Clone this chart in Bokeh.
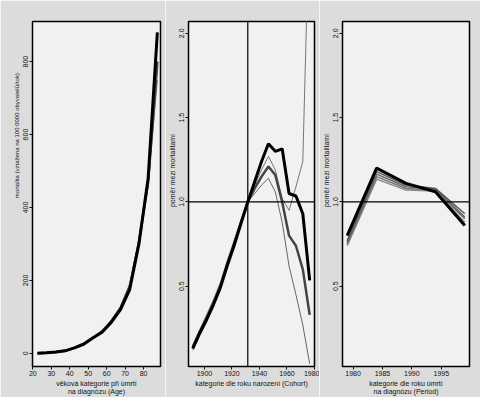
from bokeh.plotting import figure
from bokeh.layouts import row
from bokeh.models import Span, FixedTicker, Range1d, NumeralTickFormatter
from bokeh.embed import file_html
from bokeh.resources import INLINE

# ---- data ----
age = [22.5, 27.5, 32.5, 37.5, 42.5, 47.5, 52.5, 57.5, 62.5, 67.5, 72.5, 77.5, 82.5, 87.5]
age_black = [0.5, 1.5, 3.5, 7, 15, 25, 42, 58, 85, 120, 175, 300, 480, 880]
age_gray = [0.5, 1.5, 3.5, 7, 15, 26, 43, 60, 88, 124, 183, 305, 470, 800]
age_thin1 = [0.5, 1.5, 3.5, 7, 15, 26, 44, 61, 90, 127, 188, 310, 465, 785]
age_thin2 = [0.5, 1.5, 3.5, 7, 15, 26, 44, 62, 91, 129, 190, 312, 460, 750]

cohort = [1891.5, 1896.5, 1901.5, 1906.5, 1911.5, 1916.5, 1921.5, 1926.5, 1931.5,
          1936.5, 1941.5, 1946.5, 1951.5, 1956.5, 1961.5, 1966.5, 1971.5, 1976.5]
coh_black = [0.13, 0.22, 0.30, 0.39, 0.49, 0.62, 0.74, 0.87, 1.0,
             1.12, 1.24, 1.345, 1.30, 1.315, 1.05, 1.035, 0.93, 0.535]
coh_gray = [0.14, 0.23, 0.31, 0.40, 0.50, 0.63, 0.75, 0.88, 1.0,
            1.08, 1.15, 1.21, 1.16, 1.0, 0.80, 0.74, 0.60, 0.33]
coh_thin1 = [0.15, 0.24, 0.33, 0.42, 0.52, 0.65, 0.77, 0.89, 1.0,
             1.10, 1.19, 1.27, 1.19, 1.02, 0.95, 1.09, 1.24, 2.8]
coh_thin2 = [0.12, 0.21, 0.30, 0.40, 0.51, 0.64, 0.76, 0.88, 1.0,
             1.05, 1.10, 1.14, 1.06, 0.88, 0.62, 0.45, 0.27, 0.04]
cohort_ref = [1931.5]

period = [1979, 1984, 1989, 1994, 1999]
per_black = [0.80, 1.20, 1.11, 1.06, 0.86]
per_g1 = [0.77, 1.18, 1.10, 1.08, 0.93]
per_g2 = [0.76, 1.165, 1.09, 1.075, 0.91]
per_g3 = [0.75, 1.15, 1.08, 1.07, 0.90]
per_g4 = [0.74, 1.135, 1.07, 1.065, 0.88]
ratio_ref = [1.0]

age_ticks = [20, 30, 40, 50, 60, 70, 80]
rate_ticks = [0, 200, 400, 600, 800]
cohort_ticks = [1900, 1920, 1940, 1960, 1980]
period_ticks = [1980, 1985, 1990, 1995]
ratio_ticks = [0.5, 1.0, 1.5, 2.0]

FONT = "Liberation Sans"
NB = "\u00a0"


def make_fig(width, bl, br, xr, yr, xticks, yticks, xlabel, ylabel, ylabel_size="7px"):
    p = figure(width=width, height=397, x_range=Range1d(*xr), y_range=Range1d(*yr),
               output_backend="svg", toolbar_location=None,
               min_border_left=bl, min_border_right=br, min_border_top=21, min_border_bottom=31)
    p.background_fill_color = "#f1f1f1"
    p.border_fill_color = "#dcdcdc"
    p.outline_line_color = "black"
    p.outline_line_width = 1.5
    p.grid.visible = False
    p.xaxis.ticker = FixedTicker(ticks=xticks)
    p.yaxis.ticker = FixedTicker(ticks=yticks)
    p.xaxis.axis_label = xlabel
    p.yaxis.axis_label = ylabel
    p.yaxis.major_label_orientation = "vertical"
    for ax in (p.xaxis[0], p.yaxis[0]):
        ax.axis_line_color = None
        ax.major_tick_in = 0
        ax.major_tick_out = 3
        ax.major_tick_line_color = "#111111"
        ax.minor_tick_line_color = None
        ax.major_label_text_font = FONT
        ax.major_label_text_font_size = "7px"
        ax.major_label_text_color = "#111111"
        ax.major_label_standoff = 1
        ax.axis_label_text_font = FONT
        ax.axis_label_text_font_size = "7px"
        ax.axis_label_text_font_style = "normal"
        ax.axis_label_text_color = "#111111"
        ax.axis_label_standoff = 1
    p.yaxis.axis_label_text_font_size = ylabel_size
    return p


p1 = make_fig(165, 32, 5, (19.8, 89.2), (-36, 910), age_ticks, rate_ticks,
              "věková kategorie při úmrtí\nna diagnózu (Age)",
              NB * 70 + "mortalita (vztažena na 100 0000 obyvatelů/rok)", "6px")
p1.line(age, age_thin2, line_color="#777777", line_width=1)
p1.line(age, age_thin1, line_color="#666666", line_width=1)
p1.line(age, age_gray, line_color="#444444", line_width=2.5)
p1.line(age, age_black, line_color="#000000", line_width=3)

p2 = make_fig(154, 21, 5, (1888.4, 1980), (0.024, 2.07), cohort_ticks, ratio_ticks,
              "kategorie dle roku narození (Cohort)", NB * 24 + "poměr mezi mortalitami")
p2.add_layout(Span(location=cohort_ref[0], dimension="height", line_color="black", line_width=1.2))
p2.add_layout(Span(location=ratio_ref[0], dimension="width", line_color="black", line_width=1.2))
p2.line(cohort, coh_thin1, line_color="#777777", line_width=1)
p2.line(cohort, coh_thin2, line_color="#666666", line_width=1)
p2.line(cohort, coh_gray, line_color="#444444", line_width=2.5)
p2.line(cohort, coh_black, line_color="#000000", line_width=3)

p3 = make_fig(161, 21, 11, (1978.2, 1999.8), (0.024, 2.07), period_ticks, ratio_ticks,
              "kategorie dle roku úmrtí\nna diagnózu (Period)", NB * 24 + "poměr mezi mortalitami")
p3.add_layout(Span(location=ratio_ref[0], dimension="width", line_color="black", line_width=1.2))
for ys, c in ((per_g4, "#888888"), (per_g3, "#777777"), (per_g2, "#666666"), (per_g1, "#555555")):
    p3.line(period, ys, line_color=c, line_width=1.5)
p3.line(period, per_black, line_color="#000000", line_width=3)

for p in (p2, p3):
    p.yaxis.formatter = NumeralTickFormatter(format="0.0")

layout = row(p1, p2, p3, spacing=0)
open("out.html", "w").write(file_html(layout, INLINE))
